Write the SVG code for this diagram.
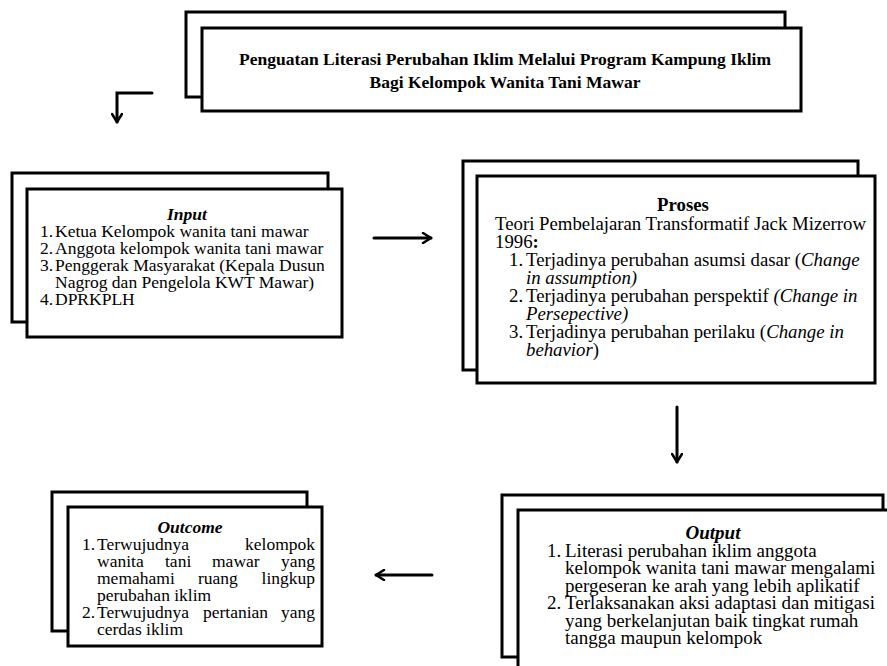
<svg xmlns="http://www.w3.org/2000/svg" width="887" height="666" viewBox="0 0 887 666">
<style>
.box{fill:#fff;stroke:#000;stroke-width:3}
.t{font-family:'Liberation Serif','Times New Roman',serif;font-size:17.5px;fill:#000}
.p{font-size:18.8px}
.o{font-size:19px}
.b{font-weight:bold}
.i{font-style:italic}
.c{text-anchor:middle}
.e{text-anchor:end}
.conn{fill:none;stroke:#000;stroke-width:3;stroke-linecap:round}
</style>
<defs>
<marker id="ah" viewBox="0 0 12 12" refX="10" refY="6" markerWidth="12" markerHeight="12" markerUnits="userSpaceOnUse" orient="auto">
<path d="M2,1 L10,6 L2,11" fill="none" stroke="#000" stroke-width="2.5" stroke-linecap="round" stroke-linejoin="round"/>
</marker>
</defs>
<rect width="887" height="666" fill="#fff"/>

<g id="title">
<rect class="box" x="186" y="12" width="599" height="85"/>
<rect class="box" x="202" y="28" width="599" height="83"/>
<text class="t b c" x="505" y="65">Penguatan Literasi Perubahan Iklim Melalui Program Kampung Iklim</text>
<text class="t b c" x="505" y="88">Bagi Kelompok Wanita Tani Mawar</text>
</g>

<g id="input">
<rect class="box" x="12" y="173" width="316" height="149"/>
<rect class="box" x="27" y="189" width="315" height="148"/>
<text class="t b i c" x="187" y="220">Input</text>
<text class="t" x="40" y="237">1.</text><text class="t" x="55" y="237">Ketua Kelompok wanita tani mawar</text>
<text class="t" x="40" y="254">2.</text><text class="t" x="55" y="254">Anggota kelompok wanita tani mawar</text>
<text class="t" x="40" y="271">3.</text><text class="t" x="55" y="271">Penggerak Masyarakat (Kepala Dusun</text>
<text class="t" x="55" y="288">Nagrog dan Pengelola KWT Mawar)</text>
<text class="t" x="40" y="305">4.</text><text class="t" x="55" y="305">DPRKPLH</text>
</g>

<g id="proses">
<rect class="box" x="463" y="161" width="395" height="209"/>
<rect class="box" x="477" y="176" width="398" height="207"/>
<text class="t p b c" x="683" y="211">Proses</text>
<text class="t p" x="495" y="230">Teori Pembelajaran Transformatif Jack Mizerrow</text>
<text class="t p" x="495" y="248">1996<tspan class="b">:</tspan></text>
<text class="t p" x="509" y="266">1.</text><text class="t p" x="526" y="266">Terjadinya perubahan asumsi dasar (<tspan class="i">Change</tspan></text>
<text class="t p i" x="526" y="284">in assumption)</text>
<text class="t p" x="509" y="302">2.</text><text class="t p" x="526" y="302">Terjadinya perubahan perspektif <tspan class="i">(Change in</tspan></text>
<text class="t p i" x="526" y="320">Persepective)</text>
<text class="t p" x="509" y="338">3.</text><text class="t p" x="526" y="338">Terjadinya perubahan perilaku (<tspan class="i">Change in</tspan></text>
<text class="t p" x="526" y="356"><tspan class="i">behavior</tspan>)</text>
</g>

<g id="output">
<rect class="box" x="502" y="495" width="381" height="162"/>
<rect class="box" x="518" y="510" width="380" height="170"/>
<text class="t o b i c" x="713" y="539">Output</text>
<text class="t o" x="547" y="557">1.</text><text class="t o" x="565" y="557">Literasi perubahan iklim anggota</text>
<text class="t o" x="565" y="574">kelompok wanita tani mawar mengalami</text>
<text class="t o" x="565" y="592">pergeseran ke arah yang lebih aplikatif</text>
<text class="t o" x="547" y="609">2.</text><text class="t o" x="565" y="609">Terlaksanakan aksi adaptasi dan mitigasi</text>
<text class="t o" x="565" y="627">yang berkelanjutan baik tingkat rumah</text>
<text class="t o" x="565" y="644">tangga maupun kelompok</text>
</g>

<g id="outcome">
<rect class="box" x="52" y="492" width="255" height="139"/>
<rect class="box" x="68" y="507" width="254" height="139"/>
<text class="t b i c" x="190" y="533">Outcome</text>
<text class="t" x="82" y="550">1.</text><text class="t" x="97" y="550">Terwujudnya</text>
<text class="t e" x="315" y="550">kelompok</text>
<text class="t" x="97" y="567">wanita</text><text class="t" x="165" y="567">tani</text><text class="t" x="212" y="567">mawar</text>
<text class="t e" x="315" y="567">yang</text>
<text class="t" x="97" y="584">memahami</text><text class="t" x="198" y="584">ruang</text>
<text class="t e" x="315" y="584">lingkup</text>
<text class="t" x="97" y="601">perubahan iklim</text>
<text class="t" x="82" y="618">2.</text><text class="t" x="97" y="618">Terwujudnya</text><text class="t" x="203" y="618">pertanian</text>
<text class="t e" x="315" y="618">yang</text>
<text class="t" x="97" y="635">cerdas iklim</text>
</g>

<g id="connectors">
<path class="conn" d="M152,93 L117,93 L117,122" marker-end="url(#ah)"/>
<path class="conn" d="M374,238 L431,238" marker-end="url(#ah)"/>
<path class="conn" d="M677,407 L677,462" marker-end="url(#ah)"/>
<path class="conn" d="M432,575 L376,575" marker-end="url(#ah)"/>
</g>
</svg>
